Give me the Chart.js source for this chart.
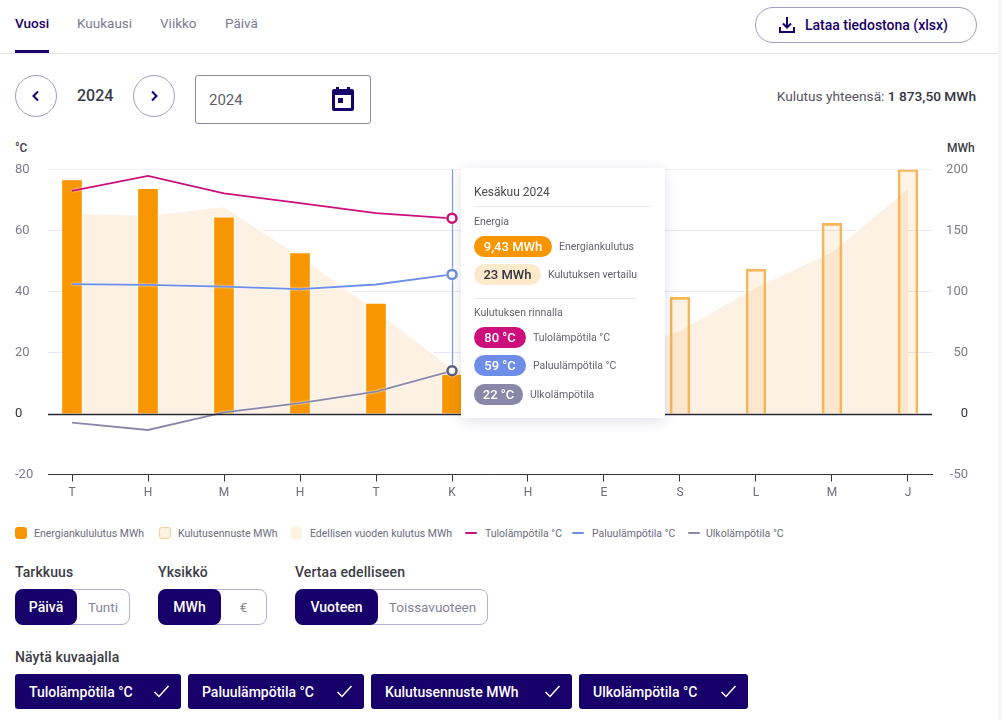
<!DOCTYPE html>
<html lang="fi"><head><meta charset="utf-8">
<script src="https://cdn.jsdelivr.net/npm/chart.js@4/dist/chart.umd.min.js"></script>
<style>
html,body{margin:0;padding:0;background:#fff;width:1002px;height:720px;overflow:hidden;font-family:Roboto,"Noto Sans",sans-serif;color:#333}
#chart{position:absolute;left:0;top:0}
.a{position:absolute;white-space:nowrap;line-height:1}
.box{position:absolute;box-sizing:border-box}
.tab{font-size:13.5px;color:#7b7a92;top:17px}
.lab{font-size:14px;font-weight:500;color:#3c3c46;letter-spacing:.1px}
.seg{position:absolute;top:589px;height:36px;box-sizing:border-box;border:1px solid #b3b1d2;border-radius:8px;background:#fff;font-size:13.5px;color:#86859a}
.seg b{position:absolute;left:-1px;top:-1px;height:36px;background:#170069;color:#fff;border-radius:8px;font-weight:500;font-size:14px;display:flex;align-items:center;justify-content:center}
.seg span{position:absolute;top:0;bottom:0;display:flex;align-items:center;justify-content:center}
.chip{position:absolute;top:674px;height:35px;background:#170069;color:#fff;border-radius:3px;font-size:14px;font-weight:500;display:flex;align-items:center;padding-left:14px;box-sizing:border-box}
.chip svg{position:absolute;top:10px;right:11px}
.leg{position:absolute;top:528px;font-size:10.5px;color:#6c6b7c;line-height:12px;white-space:nowrap}
.sw{position:absolute;box-sizing:border-box}
#tip{position:absolute;left:461px;top:168px;width:204px;height:250px;background:#fff;border-radius:3px;box-shadow:0 3px 14px rgba(40,30,90,.14)}
#tip .p{position:absolute;left:13px;height:21px;border-radius:11px;font-size:13px;font-weight:500;color:#fff;display:flex;align-items:center;justify-content:center}
#tip .t{position:absolute;font-size:10.5px;color:#63626f;white-space:nowrap;line-height:12px}
#tip .r{position:absolute;left:13px;height:1px;background:#e6e6f0}
</style></head><body>
<div class="box" style="left:998px;top:0;width:4px;height:720px;background:#f7f7fb"></div>
<div class="a tab" style="left:15px;color:#170069;font-weight:500">Vuosi</div>
<div class="a tab" style="left:77px">Kuukausi</div>
<div class="a tab" style="left:160px">Viikko</div>
<div class="a tab" style="left:225px">Päivä</div>
<div class="box" style="left:0;top:53px;width:998px;height:1px;background:#e6e6f0"></div>
<div class="box" style="left:15px;top:50px;width:34px;height:3px;background:#170069"></div>
<div class="box" style="left:755px;top:7px;width:222px;height:36px;border:1px solid #a09dc2;border-radius:18px"></div>
<svg class="a" style="left:778px;top:16px" width="18" height="18" viewBox="0 0 18 18" fill="none" stroke="#170069" stroke-width="2"><path d="M9 1v10M5 7.5l4 4 4-4M2 11v5h14v-5"/></svg>
<div class="a" style="left:805px;top:18px;font-size:14px;font-weight:500;color:#170069">Lataa tiedostona (xlsx)</div>
<div class="box" style="left:15px;top:75px;width:42px;height:42px;border:1px solid #a09dc2;border-radius:50%"></div>
<div class="box" style="left:133px;top:75px;width:42px;height:42px;border:1px solid #a09dc2;border-radius:50%"></div>
<svg class="a" style="left:31px;top:90px" width="10" height="12" viewBox="0 0 10 12" fill="none" stroke="#170069" stroke-width="2"><path d="M7 1.5L2.5 6 7 10.5"/></svg>
<svg class="a" style="left:149px;top:90px" width="10" height="12" viewBox="0 0 10 12" fill="none" stroke="#170069" stroke-width="2"><path d="M3 1.5L7.5 6 3 10.5"/></svg>
<div class="a" style="left:77px;top:88px;font-size:16px;font-weight:500;color:#3c3c46">2024</div>
<div class="box" style="left:195px;top:75px;width:176px;height:49px;border:1.3px solid #8c8aa0;border-radius:3px"></div>
<div class="a" style="left:209px;top:93px;font-size:15px;color:#5f5f6b">2024</div>
<svg class="a" style="left:332px;top:87px" width="22" height="24" viewBox="0 0 22 24"><path fill="#170069" d="M4 0h3v2h8V0h3v2h2a2 2 0 0 1 2 2v18a2 2 0 0 1-2 2H2a2 2 0 0 1-2-2V4a2 2 0 0 1 2-2h2zM3 8v13h16V8z"/><rect fill="#170069" x="6" y="11" width="5" height="5"/></svg>
<div class="a" style="right:26px;top:90px;font-size:13.7px;color:#55545f">Kulutus yhteensä: <span style="font-weight:500;color:#33333d">1 873,50 MWh</span></div>
<div class="a" style="left:15px;top:142px;font-size:12px;font-weight:500;color:#3c3c46">°C</div>
<div class="a" style="left:947px;top:142px;font-size:12px;font-weight:500;color:#3c3c46">MWh</div>
<canvas id="chart" width="1002" height="520"></canvas>
<div id="tip"></div>
<div id="legend"></div>
<div class="a lab" style="left:15px;top:565px">Tarkkuus</div>
<div class="a lab" style="left:158px;top:565px">Yksikkö</div>
<div class="a lab" style="left:295px;top:565px">Vertaa edelliseen</div>
<div class="seg" style="left:15px;width:115px"><b style="width:62px">Päivä</b><span style="left:61px;right:0">Tunti</span></div>
<div class="seg" style="left:158px;width:109px"><b style="width:63px">MWh</b><span style="left:62px;right:0">€</span></div>
<div class="seg" style="left:295px;width:193px"><b style="width:83px">Vuoteen</b><span style="left:82px;right:0">Toissavuoteen</span></div>
<div class="a lab" style="left:15px;top:650px">Näytä kuvaajalla</div>
<div id="chips"></div>
<script>
const monthLabels = ["T","H","M","H","T","K","H","E","S","L","M","J"];
const consumption = [191.7,184.6,161.3,131.9,90.6,32.4,null,null,null,null,null,null];
const forecast = [null,null,null,null,null,null,55,72,95.2,118.4,155.9,200];
const previousYear = [164.4,163,169.9,129.4,85,37.4,31.6,44,68.6,104,133,185];
const supplyTemp = [73,77.9,72.2,69,65.7,64];
const returnTemp = [42.4,42.2,41.6,40.8,42.3,45.6];
const outdoorTemp = [-3,-5.4,0.4,3.4,7.2,14];
const leftTicks = [-20,0,20,40,60,80];
const rightTicks = [-50,0,50,100,150,200];
const hoverIndex = 5;

const fontName="Roboto";
const orange="#f79600", pink="#cc0f7c", blue="#6d8de8", grey="#8a88a8";
const xy = a => a.map((v,i)=>({x:i,y:v}));
const hoverPoint = a => a.map((_,i)=> i===hoverIndex ? 4.5 : 0);

const legendItems = [
 ["Energiankululutus MWh",15,34,"s",orange,orange],
 ["Kulutusennuste MWh",158.5,178,"s","#fef3e3","#f8cf94"],
 ["Edellisen vuoden kulutus MWh",290,310,"s","#fdf1e4","#fdf1e4"],
 ["Tulolämpötila °C",465,485,"l",pink],
 ["Paluulämpötila °C",572,592,"l",blue],
 ["Ulkolämpötila °C",688,706,"l",grey]];
document.getElementById("legend").innerHTML = legendItems.map(([t,sx,tx,k,c,b])=>
 (k==="s"?`<div class="sw" style="left:${sx}px;top:527px;width:12px;height:12px;border-radius:3px;background:${c};border:1px solid ${b}"></div>`
 :`<div class="sw" style="left:${sx}px;top:532px;width:12px;height:2px;border-radius:1px;background:${c}"></div>`)
 +`<div class="leg" style="left:${tx}px">${t}</div>`).join("");

const chipItems=[["Tulolämpötila °C",15,166],["Paluulämpötila °C",188,176],["Kulutusennuste MWh",371,201],["Ulkolämpötila °C",579,169]];
document.getElementById("chips").innerHTML = chipItems.map(([t,x,w])=>
 `<div class="chip" style="left:${x}px;width:${w}px">${t}<svg width="17" height="15" viewBox="0 0 17 15" fill="none" stroke="#fff" stroke-width="1.5"><path d="M1.5 8l4.5 4.5L15.5 2"/></svg></div>`).join("");

const tipPills=[
 {y:68,w:78,bg:orange,val:"9,43 MWh",lx:98,txt:"Energiankulutus"},
 {y:96,w:67,bg:"#fde9cc",fg:"#33333d",val:"23 MWh",lx:87,txt:"Kulutuksen vertailu"},
 {y:159,w:52,bg:pink,val:"80 °C",lx:72,txt:"Tulolämpötila °C"},
 {y:187,w:52,bg:blue,val:"59 °C",lx:72,txt:"Paluulämpötila °C"},
 {y:215.5,w:49,bg:grey,val:"22 °C",lx:69,txt:"Ulkolämpötila"}];
document.getElementById("tip").innerHTML =
 `<div class="t" style="left:13px;top:17px;font-size:12px;line-height:14px;color:#4a4a55">Kesäkuu 2024</div>
  <div class="r" style="top:38px;width:177px"></div>
  <div class="t" style="left:13px;top:48px">Energia</div>
  <div class="r" style="top:130px;width:162px"></div>
  <div class="t" style="left:13px;top:139px">Kulutuksen rinnalla</div>`+
 tipPills.map(p=>`<div class="p" style="top:${p.y}px;width:${p.w}px;background:${p.bg};color:${p.fg||"#fff"}">${p.val}</div><div class="t" style="left:${p.lx}px;top:${p.y+5}px">${p.txt}</div>`).join("");

const overlay = {
 id:"overlay",
 beforeDatasetDraw(c,args){ if(c.data.datasets[args.index].type==="line" && args.index>0){c.ctx.save();c.ctx.shadowColor="#fff";c.ctx.shadowBlur=2;} },
 afterDatasetDraw(c,args){ if(c.data.datasets[args.index].type==="line" && args.index>0){c.ctx.restore();} },
 afterDatasetsDraw(c){
  const {ctx,chartArea:a,scales:{yL}}=c;
  const z=Math.round(yL.getPixelForValue(0))+.5;
  ctx.save();ctx.strokeStyle="#26262c";ctx.lineWidth=1.4;ctx.beginPath();ctx.moveTo(a.left,z);ctx.lineTo(a.right,z);ctx.stroke();ctx.restore();
 },
 beforeDatasetsDraw(c){
  const {ctx,chartArea:a,scales:{x,yL}}=c;
  const h=Math.round(x.getPixelForValue(hoverIndex))+.5;
  ctx.save();ctx.strokeStyle="#7f97ea";ctx.lineWidth=1.2;ctx.beginPath();ctx.moveTo(h,a.top);ctx.lineTo(h,yL.getPixelForValue(outdoorTemp[hoverIndex]));ctx.stroke();ctx.restore();
 }
};
Chart.register(overlay);

const lineDs=(label,data,color,order,ring)=>({type:"line",label,data:xy(data),yAxisID:"yL",borderColor:color,borderWidth:1.8,tension:0,
 pointRadius:hoverPoint(data),pointBackgroundColor:"#fff",pointBorderColor:ring||color,pointBorderWidth:2.5,order,fill:false});

new Chart(document.getElementById("chart"),{
 data:{datasets:[
  {type:"line",label:"Edellisen vuoden kulutus MWh",data:xy(previousYear),yAxisID:"yR",borderColor:"#fff",borderWidth:2,backgroundColor:"#fdf1e4",fill:"origin",pointRadius:0,tension:0,order:9},
  {type:"bar",label:"Kulutusennuste MWh",data:xy(forecast),yAxisID:"yR",backgroundColor:"rgba(247,150,0,.1)",borderColor:"#f6b75c",borderWidth:2,barThickness:20,grouped:false,order:8},
  {type:"bar",label:"Energiankululutus MWh",data:xy(consumption),yAxisID:"yR",backgroundColor:orange,borderColor:"#fff",borderWidth:1,barThickness:21,grouped:false,order:7},
  lineDs("Ulkolämpötila °C",outdoorTemp,grey,3,"#5f5e78"),
  lineDs("Paluulämpötila °C",returnTemp,blue,2),
  lineDs("Tulolämpötila °C",supplyTemp,pink,1)
 ]},
 options:{
  responsive:false,animation:false,devicePixelRatio:1,
  layout:{padding:{left:15,right:34,top:169.5,bottom:0}},
  plugins:{legend:{display:false},tooltip:{enabled:false}},
  events:[],
  scales:{
   x:{type:"linear",offset:false,min:-0.3158,max:11.3158,
    afterBuildTicks(s){s.ticks=monthLabels.map((_,i)=>({value:i}));},
    afterFit(s){s.height=45.5;},
    border:{color:"#33333a",width:1},
    grid:{offset:false,drawOnChartArea:false,drawTicks:true,tickLength:7,tickColor:"#33333a"},
    ticks:{autoSkip:false,maxRotation:0,padding:4,color:"#6c6b7c",font:{family:fontName,size:12},callback:v=>monthLabels[v]}},
   yL:{type:"linear",position:"left",min:-20,max:80,
    afterBuildTicks(s){s.ticks=leftTicks.map(value=>({value}));},
    afterFit(s){s.width=33;},
    border:{display:false},
    grid:{drawTicks:false,color:c=>c.tick.value===80?"#f1f0f6":(c.tick.value===0||c.tick.value===-20?"transparent":"#e8e7f4")},
    ticks:{crossAlign:"far",padding:0,color:c=>c.tick.value===0?"#33333a":"#7c7b92",font:{family:fontName,size:13}}},
   yR:{type:"linear",position:"right",min:-50,max:200,
    afterBuildTicks(s){s.ticks=rightTicks.map(value=>({value}));},
    afterFit(s){s.width=36;},
    border:{display:false},
    grid:{display:false},
    ticks:{crossAlign:"far",padding:0,color:c=>c.tick.value===0?"#33333a":"#7c7b92",font:{family:fontName,size:13}}}
  }
 }
});
</script>
</body></html>
